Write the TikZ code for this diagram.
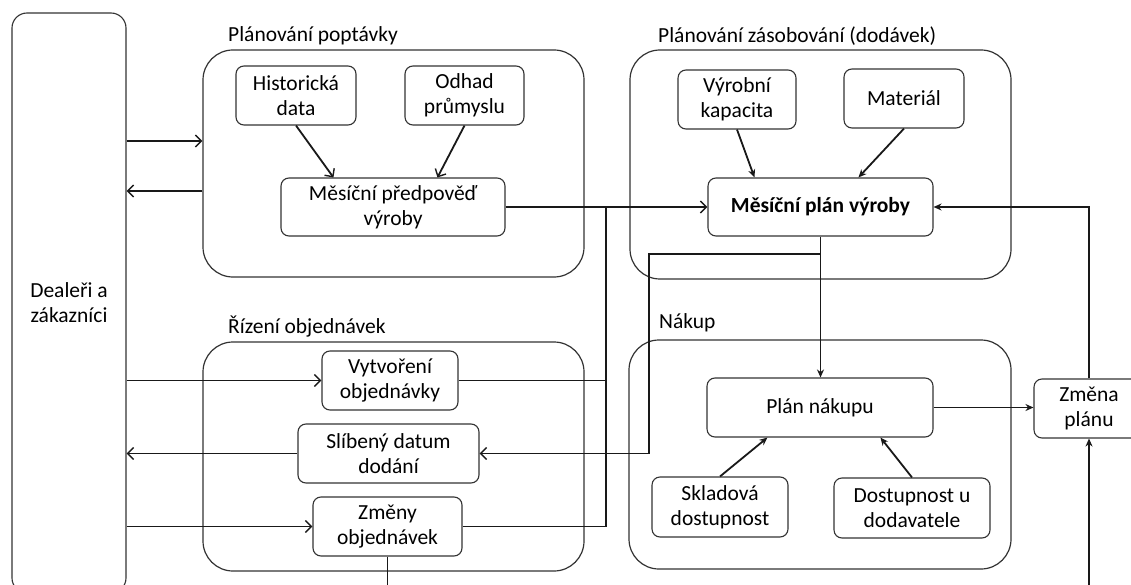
\documentclass[tikz,border=0pt]{standalone}
\usepackage{fontspec}
\setmainfont{Carlito}
\usetikzlibrary{arrows.meta,calc}
\begin{document}
\begin{tikzpicture}[x=1pt,y=-1pt,
  font=\fontsize{21.5}{25}\selectfont,
  grp/.style={draw=black!80, line width=1.2pt, rounded corners=30pt, inner sep=0pt},
  box/.style={draw=black!80, line width=1.1pt, rounded corners=8pt, align=center, inner sep=0pt},
  ttl/.style={anchor=base west, inner sep=0pt},
  conn/.style={line width=1.8pt, black!90},
  arr/.style={conn, -{Straight Barb[length=6pt,width=12pt,line width=1.4pt]}},
  arrf/.style={conn, -{Stealth[length=8pt,width=7pt]}}
]
\clip (0,0) rectangle (1131,585);
\fill[white] (0,0) rectangle (1131,585);

% dealers
\node[box, rounded corners=15pt, minimum width=114pt, minimum height=580pt] (deal) at (69,303) {Dealeři a\\zákazníci};

% groups
\node[grp, minimum width=381pt, minimum height=227pt] (gPop) at (393.5,163.5) {};
\node[grp, minimum width=381pt, minimum height=229pt] (gZas) at (820.5,164.5) {};
\node[grp, minimum width=381pt, minimum height=229pt] (gRiz) at (393.5,456.5) {};
\node[grp, minimum width=382pt, minimum height=229pt] (gNak) at (820,454.5) {};

\node[ttl] (tPop) at (228,42) {Plánování poptávky};
\node[ttl] (tZas) at (658,43) {Plánování zásobování (dodávek)};
\node[ttl] (tRiz) at (228,333) {Řízení objednávek};
\node[ttl] (tNak) at (659,328) {Nákup};

% inner boxes
\node[box, minimum width=120pt, minimum height=59pt] (hist) at (296,95.5) {Historická\\data};
\node[box, minimum width=119pt, minimum height=59pt] (odhad) at (464.5,95.5) {Odhad\\průmyslu};
\node[box, minimum width=224pt, minimum height=58pt] (pred) at (393,207) {Měsíční předpověď\\výroby};
\node[box, minimum width=118pt, minimum height=59pt] (vyrk) at (737,99.5) {Výrobní\\kapacita};
\node[box, minimum width=120pt, minimum height=59pt] (mat) at (904,98.5) {Materiál};
\node[box, minimum width=225pt, minimum height=58pt, font=\fontsize{21.5}{25}\selectfont\bfseries] (plan) at (820.5,207) {Měsíční plán výroby};
\node[box, minimum width=136pt, minimum height=59pt] (vytv) at (390,380.5) {Vytvoření\\objednávky};
\node[box, minimum width=181pt, minimum height=59pt] (slib) at (388.5,453.5) {Slíbený datum\\dodání};
\node[box, minimum width=149pt, minimum height=59pt] (zmeny) at (387.5,526.5) {Změny\\objednávek};
\node[box, minimum width=226pt, minimum height=59pt] (nak) at (820,407.5) {Plán nákupu};
\node[box, minimum width=136pt, minimum height=60pt] (sklad) at (720,507) {Skladová\\dostupnost};
\node[box, minimum width=156pt, minimum height=60pt] (dost) at (912,508) {Dostupnost u\\dodavatele};
\node[box, minimum width=110pt, minimum height=59pt] (zmena) at (1089,408.5) {Změna\\plánu};

% helper coordinates
\coordinate (y141) at (0,141);
\coordinate (y191) at (0,191);
\coordinate (j1) at (606,207);
\coordinate (j2) at (820.5,254);
\coordinate (k2) at (649,254);
\coordinate (bz) at (1089,595);
\coordinate (bz2) at (387.5,595);

% dealers <-> groups
\draw[arr] (deal.east |- y141) -- (gPop.west |- y141);
\draw[arr] (gPop.west |- y191) -- (deal.east |- y191);
\draw[arr] (deal.east |- vytv.west) -- (vytv.west);
\draw[arr] (slib.west) -- (deal.east |- slib.west);
\draw[arr] (deal.east |- zmeny.west) -- (zmeny.west);

% demand planning
\draw[arr] (hist.south) -- ([xshift=53pt]pred.north west);
\draw[arr] (odhad.south) -- ([xshift=157pt]pred.north west);
\draw[arr] (pred.east) -- (plan.west);

% supply planning
\draw[arrf] (vyrk.south) -- ([xshift=47pt]plan.north west);
\draw[arrf] (mat.south) -- ([xshift=151pt]plan.north west);

% orders to plan
\draw[conn] (vytv.east) -| (j1);
\draw[conn] (zmeny.east) -| (j1);

% plan down
\draw[arrf] (plan.south) -- (plan.south |- nak.north);
\draw[arr] (j2) -- (k2) |- (slib.east);

% purchase
\draw[arrf] (sklad.north) -- ([xshift=61pt]nak.south west);
\draw[arrf] (dost.north) -- ([xshift=174pt]nak.south west);
\draw[arrf] (nak.east) -- (nak.east -| zmena.west);
\draw[arrf] (zmena.north) |- (plan.east);
\draw[arrf] (bz) -- (zmena.south);
\draw[conn] (zmeny.south) -- (bz2);
\end{tikzpicture}
\end{document}
